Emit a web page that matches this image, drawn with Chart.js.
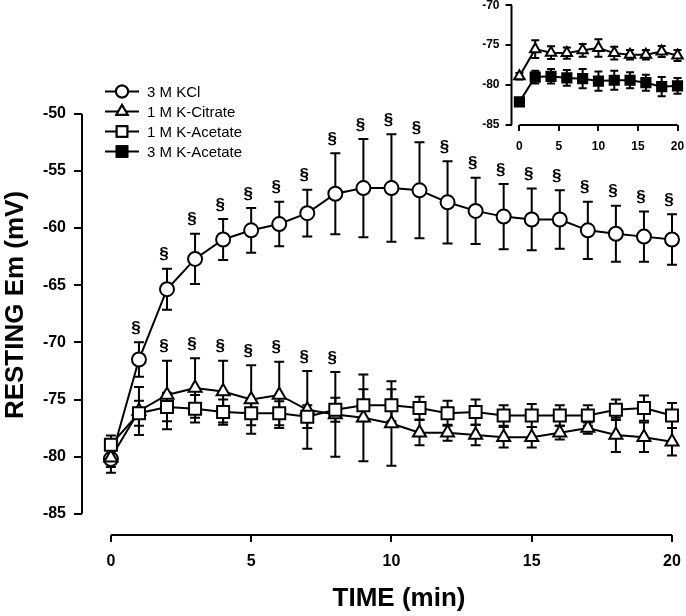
<!DOCTYPE html>
<html>
<head>
<meta charset="utf-8">
<script src="https://cdn.jsdelivr.net/npm/chart.js@4.4.1/dist/chart.umd.min.js"></script>
<style>
  body { margin: 0; background: #fff; }
  #wrap { position: relative; width: 686px; height: 616px; overflow: hidden; }
  #main { position: absolute; left: 0; top: 0; }
  #inset { position: absolute; left: 470px; top: -8px; }
</style>
</head>
<body>
<div id="wrap">
  <canvas id="main" width="686" height="616"></canvas>
  <canvas id="inset" width="216" height="168"></canvas>
</div>
<script>
// main panel, one point per minute
var timeMain = [0, 1, 2, 3, 4, 5, 6, 7, 8, 9, 10, 11, 12, 13, 14, 15, 16, 17, 18, 19, 20];
var kclMean = [-80.2, -71.5, -65.35, -62.7, -61.0, -60.2, -59.65, -58.7, -57.0, -56.5, -56.5, -56.7, -57.75, -58.5, -59.0, -59.25, -59.25, -60.2, -60.5, -60.75, -61.0];
var kclErr = [1.2, 1.5, 1.8, 2.2, 1.8, 1.95, 1.95, 2.05, 3.55, 4.3, 4.7, 4.2, 3.6, 2.9, 2.85, 2.7, 2.55, 2.5, 2.45, 2.2, 2.2];
var citrateMean = [-80.1, -76.0, -74.6, -74.0, -74.3, -75.0, -74.6, -75.9, -76.3, -76.6, -77.1, -77.9, -77.9, -78.1, -78.3, -78.3, -77.9, -77.5, -78.1, -78.3, -78.7];
var citrateErr = [0.8, 2.1, 3.0, 2.6, 2.7, 3.0, 2.9, 3.4, 3.7, 3.8, 3.7, 1.1, 0.7, 0.9, 0.9, 0.9, 0.6, 0.5, 1.5, 1.3, 1.2];
var acetateMean = [-78.95, -76.2, -75.65, -75.8, -76.1, -76.2, -76.2, -76.5, -75.9, -75.5, -75.5, -75.75, -76.2, -76.1, -76.4, -76.4, -76.4, -76.4, -75.9, -75.75, -76.4];
var acetateErr = [0.8, 1.1, 1.25, 1.2, 1.1, 1.05, 1.05, 1.0, 1.05, 1.4, 1.4, 1.0, 1.1, 1.1, 0.9, 1.0, 0.9, 0.9, 0.9, 1.1, 1.1];
// which points carry the § mark
var kclSig = [0, 1, 1, 1, 1, 1, 1, 1, 1, 1, 1, 1, 1, 1, 1, 1, 1, 1, 1, 1, 1];
var citrateSig = [0, 0, 1, 1, 1, 1, 1, 1, 1, 0, 0, 0, 0, 0, 0, 0, 0, 0, 0, 0, 0];

var yTicksMain = [-85, -80, -75, -70, -65, -60, -55, -50];
var xTicksMain = [0, 5, 10, 15, 20];

// inset, every 2 min
var timeInset = [0, 2, 4, 6, 8, 10, 12, 14, 16, 18, 20];
var insetCitrate = [-78.9, -75.5, -75.95, -76.0, -75.65, -75.35, -76.0, -76.2, -76.2, -75.8, -76.3];
var insetCitrateErr = [0.4, 1.1, 0.8, 0.7, 0.8, 1.1, 0.8, 0.6, 0.6, 0.7, 0.7];
var insetAcetate3 = [-82.1, -79.0, -78.9, -79.1, -79.2, -79.5, -79.4, -79.4, -79.7, -80.2, -80.1];
var insetAcetate3Err = [0.3, 0.8, 0.9, 1.0, 1.2, 1.2, 1.2, 1.0, 1.0, 1.2, 1.0];
var yTicksInset = [-85, -80, -75, -70];
var xTicksInset = [0, 5, 10, 15, 20];

var legendNames = ['3 M KCl', '1 M K-Citrate', '1 M K-Acetate', '3 M K-Acetate'];

var FONT = '"Liberation Sans", Arial, Helvetica, sans-serif';

function pts(xs, ys) {
	return xs.map(function (x, i) { return { x: x, y: ys[i] }; });
}

function drawMarker(ctx, style, x, y, r, fill) {
	Chart.helpers.drawPoint(ctx, { pointStyle: style, radius: r, borderWidth: 2 }, x, y);
	ctx.fillStyle = fill;
	ctx.fill();
	ctx.stroke();
}

// error bars behind the markers, § on top
function errorBarPlugin(sets, cap) {
	return {
		id: 'errbars',
		beforeDatasetsDraw: function (chart) {
			var ctx = chart.ctx, xs = chart.scales.x, ys = chart.scales.y;
			ctx.save();
			ctx.strokeStyle = '#000';
			ctx.lineWidth = 2;
			sets.forEach(function (s) {
				s.x.forEach(function (t, i) {
					var px = xs.getPixelForValue(t);
					var top = ys.getPixelForValue(s.mean[i] + s.err[i]);
					var bot = ys.getPixelForValue(s.mean[i] - s.err[i]);
					ctx.beginPath();
					ctx.moveTo(px, top); ctx.lineTo(px, bot);
					ctx.moveTo(px - cap, top); ctx.lineTo(px + cap, top);
					ctx.moveTo(px - cap, bot); ctx.lineTo(px + cap, bot);
					ctx.stroke();
				});
			});
			ctx.restore();
		},
		afterDatasetsDraw: function (chart) {
			var ctx = chart.ctx, xs = chart.scales.x, ys = chart.scales.y;
			ctx.save();
			ctx.fillStyle = '#000';
			ctx.font = 'bold 17px ' + FONT;
			ctx.textAlign = 'center';
			ctx.textBaseline = 'middle';
			sets.forEach(function (s) {
				if (!s.sig) return;
				s.x.forEach(function (t, i) {
					if (!s.sig[i]) return;
					var px = xs.getPixelForValue(t);
					var top = ys.getPixelForValue(s.mean[i] + s.err[i]);
					ctx.fillText('\u00a7', px - 3, top - 14);
				});
			});
			ctx.restore();
		}
	};
}

// Prism style detached axes: lines only between first and last tick
function axisLinePlugin(xFrom, xTo, yFrom, yTo) {
	return {
		id: 'axislines',
		afterDraw: function (chart) {
			var ctx = chart.ctx, a = chart.chartArea, xs = chart.scales.x, ys = chart.scales.y;
			ctx.save();
			ctx.strokeStyle = '#000';
			ctx.lineWidth = 2;
			ctx.beginPath();
			ctx.moveTo(a.left, ys.getPixelForValue(yFrom));
			ctx.lineTo(a.left, ys.getPixelForValue(yTo));
			ctx.moveTo(xs.getPixelForValue(xFrom), a.bottom);
			ctx.lineTo(xs.getPixelForValue(xTo), a.bottom);
			ctx.stroke();
			ctx.restore();
		}
	};
}

var legendAndTitles = {
	id: 'legendtitles',
	afterDraw: function (chart) {
		var ctx = chart.ctx;
		ctx.save();
		ctx.strokeStyle = '#000';
		ctx.lineWidth = 2;
		var styles = [['circle', 6, '#fff'], ['triangle', 6.5, '#fff'], ['rect', 7.5, '#fff'], ['rect', 7.5, '#000']];
		for (var i = 0; i < legendNames.length; i++) {
			var y = 91.5 + i * 20;
			ctx.beginPath();
			ctx.moveTo(105, y); ctx.lineTo(139, y);
			ctx.stroke();
			drawMarker(ctx, styles[i][0], 122, y, styles[i][1], styles[i][2]);
			ctx.fillStyle = '#000';
			ctx.font = '15px ' + FONT;
			ctx.textAlign = 'left';
			ctx.textBaseline = 'middle';
			ctx.fillText(legendNames[i], 147, y + 1);
		}
		ctx.fillStyle = '#000';
		ctx.font = 'bold 26px ' + FONT;
		ctx.textAlign = 'center';
		ctx.textBaseline = 'middle';
		ctx.fillText('TIME (min)', 399, 599);
		ctx.translate(16, 305);
		ctx.rotate(-Math.PI / 2);
		ctx.fillText('RESTING Em (mV)', 0, 0);
		ctx.restore();
	}
};

function lineSet(label, xs, ys, style, r, fill) {
	return {
		label: label,
		data: pts(xs, ys),
		borderColor: '#000',
		borderWidth: 2,
		pointStyle: style,
		pointRadius: r,
		pointHoverRadius: r,
		pointBorderWidth: 2,
		pointBorderColor: '#000',
		pointBackgroundColor: fill,
		tension: 0,
		clip: false
	};
}

function tickScale(ticks, opts) {
	var base = {
		type: 'linear',
		afterBuildTicks: function (s) { s.ticks = ticks.map(function (v) { return { value: v }; }); },
		border: { display: false },
		grid: { drawOnChartArea: false, drawTicks: true, color: '#000', lineWidth: 2 },
		ticks: { color: '#000', font: { family: FONT, weight: 'bold' } }
	};
	for (var k in opts) base[k] = opts[k];
	return base;
}

Chart.defaults.animation = false;

new Chart(document.getElementById('main'), {
	type: 'line',
	data: {
		datasets: [
			lineSet('1 M K-Acetate', timeMain, acetateMean, 'rect', 8.5, '#fff'),
			lineSet('1 M K-Citrate', timeMain, citrateMean, 'triangle', 7.5, '#fff'),
			lineSet('3 M KCl', timeMain, kclMean, 'circle', 7, '#fff')
		]
	},
	options: {
		responsive: false,
		layout: { padding: { top: 68, right: 14, left: 0, bottom: 0 } },
		plugins: { legend: { display: false }, tooltip: { enabled: false } },
		scales: {
			x: tickScale(xTicksMain, {
				min: -1.03, max: 20,
				afterFit: function (s) { s.height = 81; },
				grid: { drawOnChartArea: false, color: '#000', lineWidth: 2, tickLength: 7 },
				// small padding keeps the right margin tight, the line height pushes labels down
				ticks: { color: '#000', padding: 4, maxRotation: 0, font: { family: FONT, weight: 'bold', size: 16, lineHeight: 1.9 } }
			}),
			y: tickScale(yTicksMain, {
				min: -86.85, max: -46,
				afterFit: function (s) { s.width = 82; },
				grid: { drawOnChartArea: false, color: '#000', lineWidth: 2, tickLength: 8 },
				ticks: { color: '#000', padding: 8, font: { family: FONT, weight: 'bold', size: 16 } }
			})
		}
	},
	plugins: [
		errorBarPlugin([
			{ x: timeMain, mean: kclMean, err: kclErr, sig: kclSig },
			{ x: timeMain, mean: citrateMean, err: citrateErr, sig: citrateSig },
			{ x: timeMain, mean: acetateMean, err: acetateErr }
		], 5),
		axisLinePlugin(0, 20, -85, -50),
		legendAndTitles
	]
});

new Chart(document.getElementById('inset'), {
	type: 'line',
	data: {
		datasets: [
			lineSet('1 M K-Citrate', timeInset, insetCitrate, 'triangle', 6, '#fff'),
			lineSet('3 M K-Acetate', timeInset, insetAcetate3, 'rect', 6.5, '#000')
		]
	},
	options: {
		responsive: false,
		layout: { padding: { top: 0, right: 0, left: 0, bottom: 0 } },
		plugins: { legend: { display: false }, tooltip: { enabled: false } },
		scales: {
			x: tickScale(xTicksInset, {
				min: -1, max: 20,
				afterFit: function (s) { s.height = 35; },
				grid: { drawOnChartArea: false, color: '#000', lineWidth: 2, tickLength: 6 },
				ticks: { color: '#000', padding: 0, maxRotation: 0, font: { family: FONT, weight: 'bold', size: 12, lineHeight: 2.6 } }
			}),
			y: tickScale(yTicksInset, {
				min: -85, max: -70,
				afterFit: function (s) { s.width = 41.5; },
				grid: { drawOnChartArea: false, color: '#000', lineWidth: 2, tickLength: 6 },
				ticks: { color: '#000', padding: 6, font: { family: FONT, weight: 'bold', size: 12 } }
			})
		}
	},
	plugins: [
		errorBarPlugin([
			{ x: timeInset, mean: insetCitrate, err: insetCitrateErr },
			{ x: timeInset, mean: insetAcetate3, err: insetAcetate3Err }
		], 4),
		axisLinePlugin(0, 20, -85, -70)
	]
});
</script>
</body>
</html>
